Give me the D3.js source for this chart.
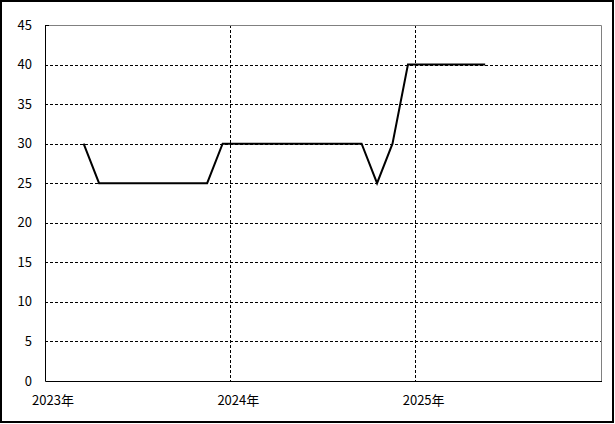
<!DOCTYPE html>
<html><head><meta charset="utf-8">
<script src="https://cdn.jsdelivr.net/npm/d3@7"></script>
<style>html,body{margin:0;padding:0;background:#fff;}svg{display:block;}</style>
</head><body>
<svg id="c" width="615" height="424"></svg>
<script>
// Data
const months = [];
for (let yr = 2023; yr <= 2025; yr++) for (let m = 1; m <= 12; m++) months.push(yr + "-" + String(m).padStart(2, "0"));
const dataMonths = ["2023-03","2023-04","2023-05","2023-06","2023-07","2023-08","2023-09","2023-10","2023-11","2023-12",
  "2024-01","2024-02","2024-03","2024-04","2024-05","2024-06","2024-07","2024-08","2024-09","2024-10","2024-11","2024-12",
  "2025-01","2025-02","2025-03","2025-04","2025-05"];
const values = [30,25,25,25,25,25,25,25,25,30,
  30,30,30,30,30,30,30,30,30,25,30,40,
  40,40,40,40,40];
const yearTicks = ["2023-01","2024-01","2025-01"];
const yearLabels = ["2023年","2024年","2025年"];
const yTicks = [0,5,10,15,20,25,30,35,40,45];

const mLeft = 45, mRight = 601, mTop = 25, mBottom = 381;
const svg = d3.select("#c");
const font = "'Noto Sans CJK JP', 'Liberation Sans', sans-serif";

const x = d3.scaleBand().domain(months).range([mLeft, mRight]).padding(0);
const y = d3.scaleLinear().domain([0, 45]).range([mBottom, mTop]);

// outer frame
svg.append("rect").attr("x", 1).attr("y", 1).attr("width", 612).attr("height", 421)
  .attr("fill", "#fff").attr("stroke", "#000").attr("stroke-width", 2);

// horizontal grid
svg.append("g").selectAll("line").data(yTicks.filter(d => d > 0 && d < 45)).join("line")
  .attr("x1", mLeft).attr("x2", mRight)
  .attr("y1", d => Math.round(y(d)) + 0.5).attr("y2", d => Math.round(y(d)) + 0.5)
  .attr("stroke", "#000").attr("stroke-width", 1).attr("stroke-dasharray", "3,2");

// vertical grid
svg.append("g").selectAll("line").data(yearTicks.slice(1)).join("line")
  .attr("x1", d => Math.floor(x(d)) + 0.5).attr("x2", d => Math.floor(x(d)) + 0.5)
  .attr("y1", mTop).attr("y2", mBottom)
  .attr("stroke", "#000").attr("stroke-width", 1).attr("stroke-dasharray", "3,2");

// top and right border (gray)
svg.append("path").attr("d", `M${mLeft},${mTop + 0.5}H${mRight + 0.5}V${mBottom}`)
  .attr("fill", "none").attr("stroke", "#808080").attr("stroke-width", 1);

// axes lines
svg.append("path").attr("d", `M${mLeft + 0.5},${mTop}V${mBottom + 0.5}H${mRight + 1}`)
  .attr("fill", "none").attr("stroke", "#000").attr("stroke-width", 1);
svg.append("line").attr("x1", mLeft).attr("x2", mLeft + 4).attr("y1", mTop + 0.5).attr("y2", mTop + 0.5)
  .attr("stroke", "#000");

// y labels
svg.append("g").selectAll("text").data(yTicks).join("text")
  .attr("x", 32).attr("y", d => y(d)).attr("dy", "0.35em")
  .attr("text-anchor", "end").attr("font-family", font).attr("font-size", 13).attr("fill", "#000")
  .text(d => d);

// x labels
svg.append("g").selectAll("text").data(yearTicks).join("text")
  .attr("x", d => x(d) + 8).attr("y", 400).attr("dy", "0.35em")
  .attr("text-anchor", "middle").attr("font-family", font).attr("font-size", 13).attr("fill", "#000")
  .text((d, i) => yearLabels[i]);

// line
const pts = dataMonths.map((m, i) => [x(m) + x.bandwidth() / 2, y(values[i])]);
svg.append("path").attr("d", d3.line()(pts))
  .attr("fill", "none").attr("stroke", "#000").attr("stroke-width", 2).attr("stroke-linejoin", "miter");
</script>
</body></html>
